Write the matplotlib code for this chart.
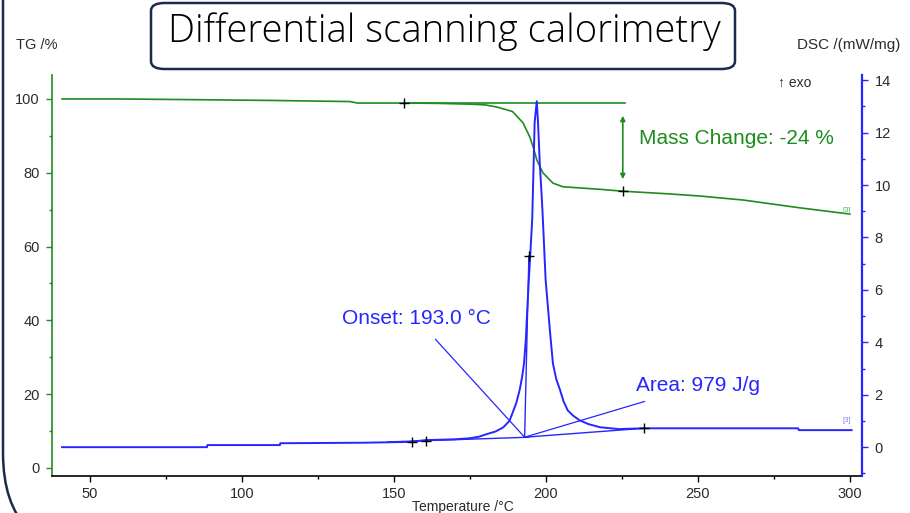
import matplotlib
matplotlib.use("Agg")
import matplotlib.pyplot as plt
from matplotlib.patches import FancyBboxPatch
from matplotlib.ticker import MultipleLocator
import matplotlib.transforms as mtransforms

plt.rcParams['font.family'] = ['Liberation Sans', 'DejaVu Sans']

# TG curve (mass %)
tgTemp = [40.8, 60, 86, 110, 135.5, 138, 153.3, 165, 175, 180, 184, 189, 192.5, 194.7,
          195.8, 197, 199, 202.3, 205.6, 211, 218, 225.3, 240, 250.6, 265, 283.5, 300]
tgMass = [100.0, 100.0, 99.8, 99.6, 99.3, 98.9, 98.9, 98.8, 98.6, 98.4, 97.8, 96.6, 93.5, 89.7,
          87.0, 83.5, 80.0, 77.2, 76.2, 75.9, 75.5, 75.0, 74.3, 73.7, 72.6, 70.5, 68.8]

# DSC curve (mW/mg)
dscTemp = [40.8, 88.5, 88.6, 112.5, 112.6, 140, 155, 160.5, 170, 175, 178, 180.6, 183.5, 186,
           188, 189, 190.3, 191.4, 192.2, 192.8, 193.4, 193.8, 194.4, 195.5, 196.3, 197,
           197.4, 198, 198.7, 199, 199.9, 201.3, 202.3, 203.4, 204.6, 205.8, 207.2, 209,
           211, 214, 217.8, 224, 232, 260, 283, 283.2, 300.6]
dscValue = [0.0, 0.0, 0.08, 0.08, 0.15, 0.17, 0.2, 0.27, 0.3, 0.34, 0.4, 0.5, 0.6, 0.76,
            1.0, 1.3, 1.7, 2.2, 2.7, 3.2, 4.1, 5.1, 6.4, 8.7, 12.4, 13.2,
            12.4, 10.8, 9.4, 8.7, 6.4, 4.47, 3.2, 2.6, 2.2, 1.75, 1.4, 1.2,
            1.03, 0.88, 0.76, 0.69, 0.72, 0.72, 0.72, 0.65, 0.65]

tgMarks = [(153.3, 98.9), (225.3, 75.0)]
dscMarks = [(156.0, 0.2), (160.5, 0.22), (194.4, 7.3), (232.2, 0.72)]
onsetPoint = (193.0, 0.38)
massChangeArrow = (225.3, 96.2, 77.5)

green = "#1e8c1e"
blue = "#2626ff"
tickColor = "#2b2b2b"

fig = plt.figure(figsize=(9.1, 5.13), dpi=100)
ax = fig.add_axes([52 / 910, 1 - 476 / 513, (862 - 52) / 910, (476 - 75) / 513])
ax2 = ax.twinx()

ax.set_xlim(37.5, 304)
ax.set_ylim(-2.2, 106.5)
ax2.set_ylim(-1.1, 14.2)

# TG
ax.plot(tgTemp, tgMass, color=green, lw=1.2)
ax.plot([153.3, 226.0], [98.9, 98.9], color=green, lw=1.2)
ax.annotate("", xy=(massChangeArrow[0], massChangeArrow[2]), xytext=(massChangeArrow[0], massChangeArrow[1]),
            arrowprops=dict(arrowstyle="<|-|>", color=green, lw=1.2, mutation_scale=7))
ax.text(230.5, 89.2, "Mass Change: -24 %", color=green, fontsize=15, va="center", ha="left")
for x, y in tgMarks:
    ax.plot(x, y, marker="+", color="black", ms=7, mew=1)
ax.text(299, 69.8, "[3]", color="#55bb55", fontsize=5.5, ha="center", va="center")

# DSC
ax2.plot(dscTemp, dscValue, color=blue, lw=1.4)
ax2.plot([onsetPoint[0], 194.4], [onsetPoint[1], 7.3], color=blue, lw=1.0)
ax2.plot([onsetPoint[0], 232.2], [onsetPoint[1], 0.72], color=blue, lw=1.0)
ax2.plot([148, 194.4], [0.2, 0.38], color=blue, lw=1.0)
for x, y in dscMarks:
    ax2.plot(x, y, marker="+", color="black", ms=7, mew=1)
ax2.annotate("Onset: 193.0 °C", xy=onsetPoint, xytext=(157.5, 4.9), color=blue, fontsize=15,
             ha="center", va="center",
             arrowprops=dict(arrowstyle="-", color=blue, lw=0.9, shrinkA=8, shrinkB=0))
ax2.annotate("Area: 979 J/g", xy=onsetPoint, xytext=(250, 2.35), color=blue, fontsize=15,
             ha="center", va="center",
             arrowprops=dict(arrowstyle="-", color=blue, lw=0.9, shrinkA=9, shrinkB=0))
ax2.text(299, 1.0, "[3]", color="#8888ee", fontsize=5.5, ha="center", va="center")
ax2.text(282, 13.9, "↑ exo", color=tickColor, fontsize=10, ha="center", va="center")

# axes styling
for a in (ax, ax2):
    a.spines["top"].set_visible(False)
ax.spines["right"].set_visible(False)
ax2.spines["left"].set_visible(False)
ax2.spines["bottom"].set_visible(False)
ax.spines["left"].set_color(green)
ax.spines["bottom"].set_color("black")
ax2.spines["right"].set_color(blue)
for s in ("left", "bottom"):
    ax.spines[s].set_linewidth(1.2)
ax2.spines["right"].set_linewidth(1.6)

ax.xaxis.set_major_locator(MultipleLocator(50))
ax.xaxis.set_minor_locator(MultipleLocator(25))
ax.yaxis.set_minor_locator(MultipleLocator(10))
ax2.yaxis.set_minor_locator(MultipleLocator(1))
ax.set_yticks(range(0, 101, 20))
ax2.set_yticks(range(0, 15, 2))

ax.tick_params(axis="x", which="both", colors="black", labelcolor=tickColor, labelsize=10.5, pad=4)
ax.tick_params(axis="y", which="both", colors=green, labelcolor=tickColor, labelsize=10.5, pad=5)
ax2.tick_params(axis="y", which="both", colors=blue, labelcolor=tickColor, labelsize=10.5, pad=5)
for a in (ax, ax2):
    a.tick_params(which="major", length=4, width=1)
    a.tick_params(which="minor", length=2.5, width=1)

fig.text(37 / 910, 1 - 45 / 513, "TG /%", fontsize=10.5, color=tickColor, ha="center", va="center")
fig.text(849 / 910, 1 - 45 / 513, "DSC /(mW/mg)", fontsize=11, color=tickColor, ha="center", va="center")
fig.text(463 / 910, 1 - 506.5 / 513, "Temperature /°C", fontsize=10, color=tickColor, ha="center", va="center")

# outer rounded frame and title box
frame = FancyBboxPatch((3, -42), 1100, 1200, boxstyle="round,pad=0,rounding_size=102",
                       transform=mtransforms.IdentityTransform(), fill=False,
                       edgecolor="#1c2b4a", lw=1.8)
fig.add_artist(frame)
titleBox = FancyBboxPatch((151 / 910, 1 - 69 / 513), (735 - 151) / 910, 66 / 513,
                          boxstyle="round,pad=0,rounding_size=0.015",
                          transform=fig.transFigure, facecolor="white",
                          edgecolor="#1c2b4a", lw=1.8)
fig.add_artist(titleBox)
fig.text(444 / 910, 1 - 32 / 513, "Differential scanning calorimetry", fontsize=27.5,
         family=["Open Sans", "DejaVu Sans"], fontweight="light", color="black",
         ha="center", va="center")

plt.savefig("out.png", dpi=100)
plt.close()
